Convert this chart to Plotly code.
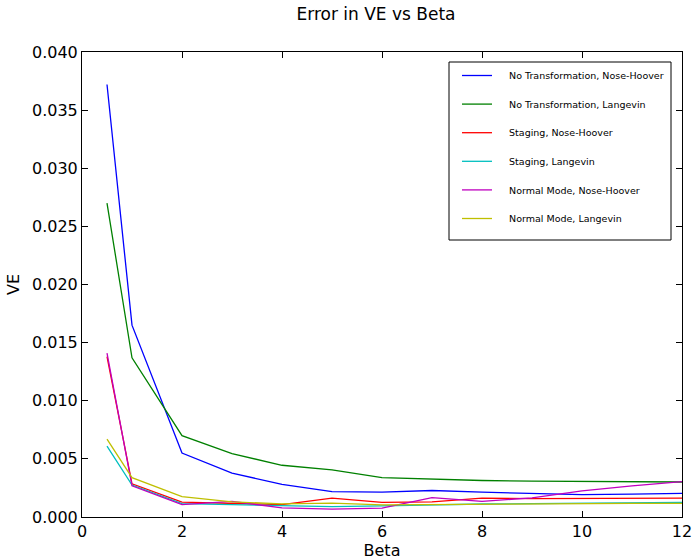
import plotly.graph_objects as go

beta = [0.5, 1, 2, 3, 4, 5, 6, 7, 8, 9, 10, 11, 12]

no_trans_nh = [0.0372, 0.0165, 0.0055, 0.00378, 0.00280, 0.00218, 0.00214, 0.00228, 0.00214, 0.00200, 0.00192, 0.00196, 0.00204]
no_trans_lv = [0.0270, 0.0137, 0.0070, 0.00545, 0.00445, 0.00405, 0.00338, 0.00325, 0.00314, 0.00308, 0.00304, 0.00302, 0.00301]
staging_nh = [0.0138, 0.00285, 0.00128, 0.00118, 0.00106, 0.00162, 0.00125, 0.00130, 0.00162, 0.00158, 0.00160, 0.00160, 0.00162]
staging_lv = [0.0061, 0.00275, 0.00115, 0.00108, 0.00100, 0.00090, 0.00096, 0.00105, 0.00112, 0.00115, 0.00120, 0.00124, 0.00126]
normal_nh = [0.0141, 0.00268, 0.00106, 0.00135, 0.00078, 0.00067, 0.00076, 0.00166, 0.00135, 0.00165, 0.00225, 0.00268, 0.00304]
normal_lv = [0.0067, 0.00338, 0.00176, 0.00130, 0.00113, 0.00119, 0.00104, 0.00108, 0.00110, 0.00114, 0.00116, 0.00118, 0.00118]

names = [
    "No Transformation, Nose-Hoover",
    "No Transformation, Langevin",
    "Staging, Nose-Hoover",
    "Staging, Langevin",
    "Normal Mode, Nose-Hoover",
    "Normal Mode, Langevin",
]
series = [no_trans_nh, no_trans_lv, staging_nh, staging_lv, normal_nh, normal_lv]
colors = ["#0000ff", "#008000", "#ff0000", "#00bfbf", "#bf00bf", "#bfbf00"]

fig = go.Figure()
for i, (n, s, c) in enumerate(zip(names, series, colors)):
    fig.add_trace(go.Scatter(x=beta, y=s, mode="lines", name="\u00a0\u00a0\u00a0\u00a0" + n,
                             line=dict(color=c, width=1.3),
                             legendgroup=f"g{i}"))

# plot area in pixels
L, R, T, B = 82, 682, 52, 517
W, H = R - L, B - T

def px_x(p):
    return (p - L) / W

def px_y(p):
    return (B - p) / H

font = "DejaVu Sans, sans-serif"
axis_common = dict(
    showline=True, linecolor="black", linewidth=1, mirror="ticks",
    ticks="inside", ticklen=6, tickcolor="black", tickwidth=1,
    showgrid=False, zeroline=False, automargin=False,
    tickfont=dict(family=font, size=16, color="black"),
)
fig.update_layout(
    width=695, height=560,
    margin=dict(l=L, r=695 - R, t=T, b=560 - B, autoexpand=False),
    paper_bgcolor="white", plot_bgcolor="white",
    title=dict(text="Error in VE vs Beta", x=376 / 695, xanchor="center",
               y=1 - 14 / 560, yanchor="middle",
               font=dict(family=font, size=17, color="black")),
    xaxis=dict(range=[0, 12], tickvals=[0, 2, 4, 6, 8, 10, 12],
               title=dict(text="Beta", font=dict(family=font, size=16, color="black"), standoff=0),
               **axis_common),
    yaxis=dict(range=[0, 0.040], tickvals=[0, 0.005, 0.010, 0.015, 0.020, 0.025, 0.030, 0.035, 0.040],
               tickformat=".3f",
               title=dict(text="VE", font=dict(family=font, size=16, color="black"), standoff=8),
               **axis_common),
    legend=dict(x=px_x(457), y=px_y(61), xanchor="left", yanchor="top",
                borderwidth=0, bgcolor="rgba(0,0,0,0)",
                font=dict(family=font, size=9.5, color="black"),
                traceorder="grouped", tracegroupgap=9.6,
                itemwidth=30),
    showlegend=True,
    shapes=[dict(type="rect", xref="paper", yref="paper",
                 x0=px_x(449), x1=px_x(671), y0=px_y(240), y1=px_y(62),
                 line=dict(color="black", width=1), fillcolor="white",
                 layer="above")],
)

fig.write_html("out.html")
